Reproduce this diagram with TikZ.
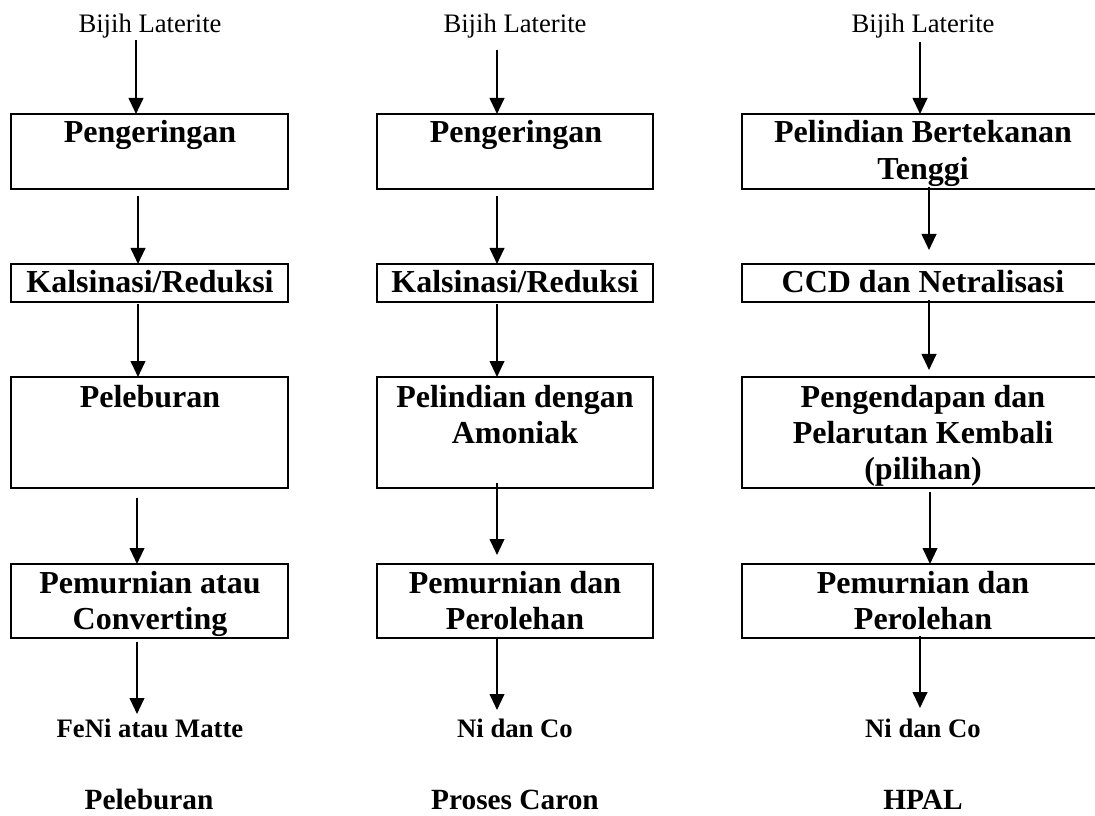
\documentclass[tikz,border=0pt]{standalone}
\usepackage{fontspec}
\setmainfont{Liberation Serif}
\usetikzlibrary{arrows.meta}
\begin{document}
\begin{tikzpicture}[x=0.75pt,y=-0.75pt,
  box/.style={draw, line width=1pt, inner sep=0pt, outer sep=0pt},
  btxt/.style={font=\fontsize{24}{27}\selectfont\bfseries, anchor=base, inner sep=0pt},
  src/.style={font=\fontsize{20}{24}\selectfont, anchor=base, inner sep=0pt},
  outp/.style={font=\fontsize{20}{24}\selectfont\bfseries, anchor=base, inner sep=0pt},
  ttl/.style={font=\fontsize{22}{26}\selectfont\bfseries, anchor=base, inner sep=0pt},
  arr/.style={line width=1.5pt, -{Triangle[length=12pt,width=11pt]}}]
\path[use as bounding box, clip] (0,0) rectangle (1095,816);

% ---------------- Column 1: Peleburan ----------------
\node[src] (s1) at (150,33) {Bijih Laterite};
\node[box, minimum width=207.75pt, minimum height=56.25pt] (a1) at (149.5,151.5) {};
\node[btxt] (a1t) at (150,143) {Pengeringan};
\node[box, minimum width=207.75pt, minimum height=28.5pt] (a2) at (149.5,283) {};
\node[btxt] (a2t) at (150,293) {Kalsinasi/Reduksi};
\node[box, minimum width=207.75pt, minimum height=83.25pt] (a3) at (149.5,432.5) {};
\node[btxt] (a3t) at (150,407) {Peleburan};
\node[box, minimum width=207.75pt, minimum height=55.5pt] (a4) at (149.5,601) {};
\node[btxt] (a4t) at (150,593) {Pemurnian atau};
\node[btxt] (a4u) at (150,629) {Converting};
\node[outp] (o1) at (150,737) {FeNi atau Matte};
\node[ttl] (t1) at (149,809) {Peleburan};

\coordinate (a0s) at (136,40);
\coordinate (a1s) at (138,196);
\coordinate (a2s) at (138,304);
\coordinate (a3s) at (137,498);
\coordinate (a4s) at (137,642);
\coordinate (a5e) at (137,714);
\draw[arr] (a0s) -- (a0s |- a1.north);
\draw[arr] (a1s) -- (a1s |- a2.north);
\draw[arr] (a2s) -- (a2s |- a3.north);
\draw[arr] (a3s) -- (a3s |- a4.north);
\draw[arr] (a4s) -- (a5e);

% ---------------- Column 2: Proses Caron ----------------
\node[src] (s2) at (515,33) {Bijih Laterite};
\node[box, minimum width=207pt, minimum height=56.25pt] (b1) at (515,151.5) {};
\node[btxt] (b1t) at (516,143) {Pengeringan};
\node[box, minimum width=207pt, minimum height=28.5pt] (b2) at (515,283) {};
\node[btxt] (b2t) at (515,293) {Kalsinasi/Reduksi};
\node[box, minimum width=207pt, minimum height=83.25pt] (b3) at (515,432.5) {};
\node[btxt] (b3t) at (515,407) {Pelindian dengan};
\node[btxt] (b3u) at (515,443) {Amoniak};
\node[box, minimum width=207pt, minimum height=55.5pt] (b4) at (515,601) {};
\node[btxt] (b4t) at (515,593) {Pemurnian dan};
\node[btxt] (b4u) at (515,629) {Perolehan};
\node[outp] (o2) at (515,737) {Ni dan Co};
\node[ttl] (t2) at (515,809) {Proses Caron};

\coordinate (b0s) at (497,50);
\coordinate (b1s) at (497,196);
\coordinate (b2s) at (497,304);
\coordinate (b3s) at (497,483);
\coordinate (b3e) at (497,555);
\coordinate (b4s) at (497,638);
\coordinate (b5e) at (497,710);
\draw[arr] (b0s) -- (b0s |- b1.north);
\draw[arr] (b1s) -- (b1s |- b2.north);
\draw[arr] (b2s) -- (b2s |- b3.north);
\draw[arr] (b3s) -- (b3e);
\draw[arr] (b4s) -- (b5e);

% ---------------- Column 3: HPAL ----------------
\node[src] (s3) at (923,33) {Bijih Laterite};
\node[box, minimum width=270pt, minimum height=56.25pt] (c1) at (922,151.5) {};
\node[btxt] (c1t) at (923,143) {Pelindian Bertekanan};
\node[btxt] (c1u) at (923,180) {Tenggi};
\node[box, minimum width=270pt, minimum height=28.5pt] (c2) at (922,283) {};
\node[btxt] (c2t) at (923,293) {CCD dan Netralisasi};
\node[box, minimum width=270pt, minimum height=83.25pt] (c3) at (922,432.5) {};
\node[btxt] (c3t) at (923,407) {Pengendapan dan};
\node[btxt] (c3u) at (923,443) {Pelarutan Kembali};
\node[btxt] (c3v) at (923,479) {(pilihan)};
\node[box, minimum width=270pt, minimum height=55.5pt] (c4) at (922,601) {};
\node[btxt] (c4t) at (923,593) {Pemurnian dan};
\node[btxt] (c4u) at (923,629) {Perolehan};
\node[outp] (o3) at (923,737) {Ni dan Co};
\node[ttl] (t3) at (923,809) {HPAL};

\coordinate (c0s) at (920,42);
\coordinate (c1s) at (929,187);
\coordinate (c1e) at (929,250);
\coordinate (c2s) at (929,300);
\coordinate (c2e) at (929,370);
\coordinate (c3s) at (930,492);
\coordinate (c4s) at (920,636);
\coordinate (c5e) at (920,708);
\draw[arr] (c0s) -- (c0s |- c1.north);
\draw[arr] (c1s) -- (c1e);
\draw[arr] (c2s) -- (c2e);
\draw[arr] (c3s) -- (c3s |- c4.north);
\draw[arr] (c4s) -- (c5e);
\end{tikzpicture}
\end{document}
